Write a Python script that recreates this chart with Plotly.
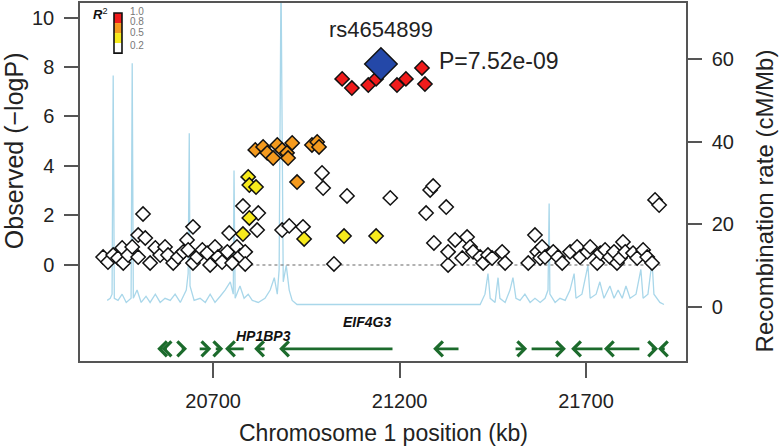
import plotly.graph_objects as go

# ---------------- data ----------------
# recombination rate (cM/Mb) along chromosome position (kb)
rec_pos = [20416, 20424, 20429, 20432, 20435, 20445, 20456, 20467, 20480, 20483, 20486,
           20496, 20507, 20520, 20531, 20545, 20558, 20571, 20585, 20598, 20612, 20628,
           20633, 20636, 20638, 20649, 20665, 20679, 20692, 20705, 20719, 20732, 20746,
           20754, 20756, 20759, 20772, 20783, 20794, 20805, 20821, 20839, 20853, 20864,
           20872, 20877, 20882, 20888, 20896, 20904, 20912, 20925, 21416, 21429, 21437,
           21443, 21456, 21464, 21469, 21483, 21496, 21504, 21512, 21523, 21536, 21550,
           21563, 21577, 21590, 21598, 21601, 21603, 21617, 21630, 21644, 21657, 21668,
           21673, 21689, 21705, 21711, 21727, 21737, 21748, 21764, 21775, 21786, 21797,
           21807, 21818, 21834, 21847, 21853, 21866, 21877, 21882, 21898, 21909]
rec_rate = [1.5, 2, 3, 56, 2, 1.5, 3, 1, 2, 59, 2,
            4, 1, 2.5, 1, 3, 1, 2, 1.5, 3, 1, 4,
            8, 42, 5, 1.5, 2, 1, 3, 1, 2.5, 4, 6,
            3, 33, 2, 5, 2, 3, 1.5, 1, 2, 4, 7,
            3, 9, 80, 6, 10, 4, 1.5, 0.5, 0.5, 3, 8,
            2, 1, 7, 2, 1, 4, 7, 2, 1.5, 3, 1,
            2, 1, 2, 4, 25, 3, 1, 2, 1.5, 4, 8,
            2, 3, 10, 2, 3, 6, 2, 5, 2, 4, 2,
            5, 2, 3, 9, 2, 3, 11, 3, 1, 0.5]

# SNPs by LD class (r^2)
white_pos = [20405, 20418, 20432, 20445, 20456, 20459, 20472, 20483, 20499, 20499, 20512,
             20518, 20531, 20545, 20558, 20571, 20579, 20593, 20606, 20620, 20630, 20633,
             20646, 20646, 20657, 20671, 20684, 20692, 20705, 20713, 20724, 20738, 20743,
             20751, 20764, 20772, 20780, 20786, 20786, 20818, 20821,
             20885, 20904, 20941, 20992, 20995, 21024, 21059, 21175, 21271, 21282, 21290, 21325,
             21292, 21330, 21330, 21349, 21368, 21381, 21389, 21397, 21416, 21424, 21437,
             21448, 21475, 21483, 21545, 21563, 21569, 21577, 21582, 21590, 21612, 21625,
             21636, 21657, 21676, 21684, 21703, 21711, 21730, 21738, 21751, 21764, 21775,
             21783, 21791, 21799, 21805, 21826, 21837, 21853, 21864, 21877, 21885, 21896]
white_logp = [0.32, 0.12, 0.40, 0.28, 0.69, 0.08, 0.40, 0.73, 1.21, 0.32, 2.06,
              1.09, 0.08, 0.69, 0.40, 0.73, 0.40, 0.08, 0.32, 0.53, 1.01, 0.61,
              1.54, 0.08, 0.32, 0.61, 0.48, 0.00, 0.73, 0.32, 0.12, 0.53, 1.29,
              0.08, 0.73, 0.36, 2.38, 0.53, 0.04, 1.41, 2.10,
              1.41, 1.58, 1.54, 3.72, 3.11, 0.04, 2.79, 2.71, 2.10, 3.03, 3.19, 2.34,
              0.89, 0.00, 0.53, 1.01, 0.28, 1.13, 0.73, 0.53, 0.32, 0.08, 0.40,
              0.28, 0.53, 0.08, 0.08, 1.21, 0.53, 0.28, 0.73, 0.32, 0.53, 0.32,
              0.08, 0.53, 0.73, 0.32, 0.53, 0.73, 0.08, 0.48, 0.61, 0.32, 0.53,
              0.08, 0.28, 0.93, 0.53, 0.48, 0.28, 0.61, 0.32, 0.08, 2.63, 2.42]

yellow_pos = [20794, 20797, 20815, 20797, 20780, 20944, 21051, 21137]
yellow_logp = [3.56, 3.23, 3.15, 1.90, 1.25, 1.05, 1.17, 1.17]

orange_pos = [20813, 20834, 20845, 20861, 20872, 20885, 20898, 20901, 20912, 20965, 20979, 20984, 20925]
orange_logp = [4.65, 4.77, 4.53, 4.32, 4.85, 4.65, 4.53, 4.32, 4.93, 4.85, 4.97, 4.77, 3.35]

red_pos = [21046, 21072, 21116, 21137, 21193, 21217, 21260, 21268]
red_logp = [7.52, 7.15, 7.27, 7.52, 7.27, 7.52, 7.96, 7.31]

lead_snp = "rs4654899"
lead_pos = [21150]
lead_logp = [8.12]
lead_p_text = "P=7.52e-09"

# genes: start, end (kb), strand
gene_start = [20550, 20562, 20612, 20660, 20703, 20732, 20810, 20877, 21290, 21507, 21550, 21660, 21748, 21872, 21893]
gene_end = [20568, 20580, 20630, 20695, 20727, 20786, 20842, 21185, 21362, 21542, 21646, 21748, 21847, 21893, 21915]
gene_strand = ["-", "-", "+", "+", "+", "-", "-", "-", "-", "+", "+", "-", "-", "+", "-"]
gene_labels = ["HP1BP3", "EIF4G3"]
gene_label_pos = [20835, 21113]
gene_label_y = [-2.87, -2.3]
gene_track_y = -3.39

x_ticks = [20700, 21200, 21700]
x_tick_labels = ["20700", "21200", "21700"]
logp_ticks = [0, 2, 4, 6, 8, 10]
rate_ticks = [0, 20, 40, 60]
legend_labels = ["1.0", "0.8", "0.5", "0.2"]

# ---------------- figure ----------------
FONT = "Liberation Sans, Arial, sans-serif"
AX = "#555555"
TXT = "#222222"
GREEN = "#1c6b2c"

fig = go.Figure()

fig.add_trace(go.Scatter(x=rec_pos, y=rec_rate, mode="lines", yaxis="y",
                         line=dict(color="#a9d7ea", width=1.3), hoverinfo="skip", showlegend=False))

fig.add_trace(go.Scatter(x=[20800, 21900], y=[0, 0], mode="lines", yaxis="y2",
                         line=dict(color="#666666", width=1.2, dash="dot"), hoverinfo="skip", showlegend=False))

def snp_trace(xs, ys, color, size):
    return go.Scatter(x=xs, y=ys, mode="markers", yaxis="y2", showlegend=False,
                      marker=dict(symbol="diamond", size=size, color=color,
                                  line=dict(color="#111111", width=1.5)))

fig.add_trace(snp_trace(white_pos, white_logp, "white", 11))
fig.add_trace(snp_trace(yellow_pos, yellow_logp, "#f7ea1c", 11))
fig.add_trace(snp_trace(orange_pos, orange_logp, "#f49a1e", 11))
fig.add_trace(snp_trace(red_pos, red_logp, "#f01c1c", 11))
fig.add_trace(snp_trace(lead_pos, lead_logp, "#2448a8", 25))

annotations = []
for s, e, st in zip(gene_start, gene_end, gene_strand):
    head, tail = (s, e) if st == "-" else (e, s)
    annotations.append(dict(x=head, y=gene_track_y, ax=tail, ay=gene_track_y,
                            xref="x", yref="y2", axref="x", ayref="y2", text="",
                            showarrow=True, arrowhead=4, arrowsize=1.1, arrowwidth=2.6,
                            arrowcolor=GREEN, standoff=0, startstandoff=0))
for lab, gx, gy in zip(gene_labels, gene_label_pos, gene_label_y):
    annotations.append(dict(x=gx, y=gy, xref="x", yref="y2", text="<b><i>%s</i></b>" % lab,
                            showarrow=False, xanchor="center", yanchor="middle",
                            font=dict(family=FONT, size=14, color="#111111")))

annotations.append(dict(x=lead_pos[0], y=9.5, xref="x", yref="y2", text=lead_snp, showarrow=False,
                        xanchor="center", yanchor="middle", font=dict(family=FONT, size=22, color=TXT)))
annotations.append(dict(x=21300, y=8.24, xref="x", yref="y2", text=lead_p_text, showarrow=False,
                        xanchor="left", yanchor="middle", font=dict(family=FONT, size=23, color=TXT)))

# axis titles
annotations.append(dict(x=0, xref="paper", xshift=-66, y=4.6, yref="y2", text="Observed (−logP)",
                        xanchor="center", yanchor="middle", textangle=-90, showarrow=False,
                        font=dict(family=FONT, size=25, color=TXT)))
annotations.append(dict(x=1, xref="paper", xshift=78, y=25.5, yref="y", text="Recombination rate (cM/Mb)",
                        xanchor="center", yanchor="middle", textangle=-90, showarrow=False,
                        font=dict(family=FONT, size=24, color=TXT)))
annotations.append(dict(x=0.5, xref="paper", y=0, yref="paper", yshift=-72, text="Chromosome 1 position (kb)",
                        xanchor="center", yanchor="middle", showarrow=False,
                        font=dict(family=FONT, size=23, color=TXT)))

# R^2 legend
legend_colors = ["#f01c1c", "#f49a1e", "#f7ea1c", "white"]
shapes = []
bx0, bx1 = 0.0561, 0.0693
top, step = 0.972, 0.028
for i, c in enumerate(legend_colors):
    shapes.append(dict(type="rect", xref="paper", yref="paper", x0=bx0, x1=bx1,
                       y0=top - (i + 1) * step, y1=top - i * step, fillcolor=c, line=dict(width=0)))
shapes.append(dict(type="rect", xref="paper", yref="paper", x0=bx0, x1=bx1,
                   y0=top - 4 * step, y1=top, line=dict(color="#111111", width=1.6)))
annotations.append(dict(x=0.033, y=0.969, xref="paper", yref="paper", text="<b><i>R</i></b><sup>2</sup>",
                        xanchor="center", yanchor="middle", showarrow=False,
                        font=dict(family=FONT, size=13, color="#111111")))
for lab, ly in zip(legend_labels, [0.975, 0.948, 0.918, 0.882]):
    annotations.append(dict(x=0.079, y=ly, xref="paper", yref="paper", text=lab,
                            xanchor="left", yanchor="middle", showarrow=False,
                            font=dict(family=FONT, size=10, color="#777777")))

axis_common = dict(showgrid=False, zeroline=False, showline=True, linecolor=AX, linewidth=1.5,
                   ticks="outside", tickcolor=AX, tickwidth=1.5, automargin=False,
                   tickfont=dict(family=FONT, size=20, color=TXT))

fig.update_layout(
    width=779, height=447,
    margin=dict(l=80, r=93, t=3, b=86, autoexpand=False),
    paper_bgcolor="white", plot_bgcolor="white",
    xaxis=dict(range=[20343, 21968], tickvals=x_ticks, ticktext=x_tick_labels, ticklen=15, mirror=True,
               ticklabelstandoff=6, **axis_common),
    yaxis=dict(range=[-13.2, 73.6], tickvals=rate_ticks, side="right", ticklen=14,
               ticklabelstandoff=6, **axis_common),
    yaxis2=dict(range=[-3.88, 10.586], tickvals=logp_ticks, side="left", overlaying="y",
                ticklen=14, ticklabelstandoff=6, **axis_common),
    annotations=annotations,
    shapes=shapes,
    showlegend=False,
)

fig.write_html("out.html", config={"displayModeBar": False},
               post_script="document.body.style.margin='0px';")
